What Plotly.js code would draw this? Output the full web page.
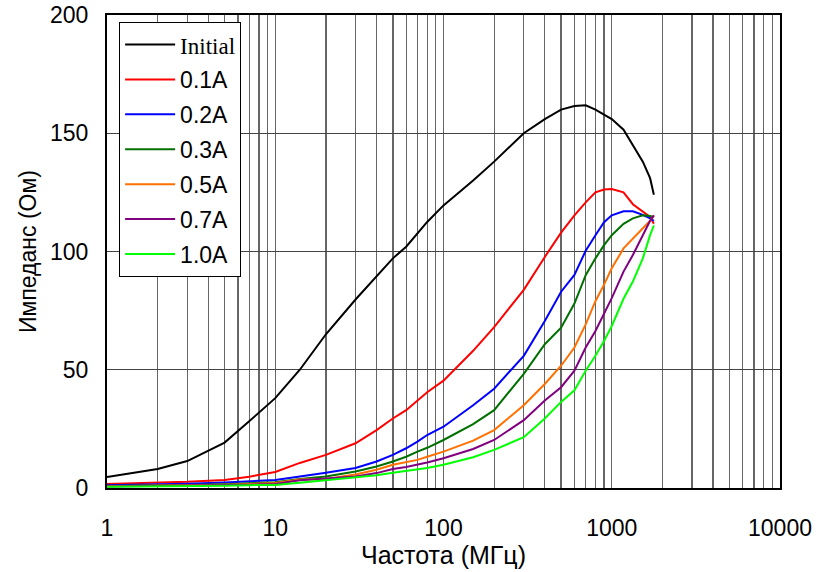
<!DOCTYPE html>
<html>
<head>
<meta charset="utf-8">
<script src="https://cdn.plot.ly/plotly-3.0.1.min.js"></script>
<style>html,body{margin:0;padding:0;background:#fff;}#chart{width:838px;height:572px;}</style>
</head>
<body>
<div id="chart"></div>
<script>
// Frequency (MHz)
const freq = [1,2,3,5,7,10,14,20,30,40,50,60,70,80,100,150,200,300,400,500,600,700,800,900,1000,1175,1335,1530,1690,1780];
// Impedance (Ohm)
const zInitial = [4.6,8,11.4,19.2,28.2,38,50,65,79.7,89.4,97.1,102,107.6,112.5,119.5,130,138,150,156,160,161.5,161.8,160,158,156,151.5,145,138,131,124];
const z01A = [1.7,2.2,2.6,3.4,4.8,6.8,10.6,14,18.9,24.5,29.4,32.9,37,40.5,45.4,58,68,83.8,97.7,108,115.3,120.8,125,126.2,126.4,125,120,117,114.6,111.7];
const z02A = [1.2,1.5,1.8,2.3,2.8,3.4,4.9,6.4,8.5,11.2,14,16.8,19.6,22.4,25.9,35,42,55.9,70.6,83,90.1,100.3,106.9,112.4,115.3,117,117,115.5,114,113];
const z03A = [0.8,1.0,1.3,1.6,1.9,2.4,3.8,4.9,7,9.1,11.2,13.2,15.4,17,20.3,27,32.9,48.3,60.8,67.8,78,90,97.1,102.7,106.9,111.7,114,115.3,115,114.6];
const z05A = [0.7,0.9,1.1,1.4,1.7,2.1,3.6,3.8,5.7,7.7,9.8,10.8,11.9,13.2,15.4,20,24.5,35,44,51.7,59.4,69.2,79,86,92.9,101.3,105.5,109.7,113,115.3];
const z07A = [0.6,0.8,1.0,1.2,1.4,1.7,3.3,4,4.9,6.3,8,8.9,9.8,10.8,12.6,16.5,20.3,28.7,37,42.6,49.6,59.4,66.4,73.4,80.3,91.5,98.5,106.9,113,115.3];
const z10A = [0.5,0.6,0.8,1.0,1.2,1.3,2.2,3.2,4.3,5.4,6.4,7.1,7.7,8.5,9.8,13,16.1,21.5,29.4,36.4,41.3,49.6,55.9,62.2,68.5,80,87.3,97.1,106.9,111];

const seriesNames = ['<span style="font-family:\'Liberation Serif\',\'Times New Roman\',serif">Initial</span>','0.1A','0.2A','0.3A','0.5A','0.7A','1.0A'];
const seriesData = [zInitial, z01A, z02A, z03A, z05A, z07A, z10A];
const seriesColors = ['#000000','#ff0000','#0000ff','#007000','#ff7000','#800080','#00ff00'];

// Log-axis grid positions: 1..9 x each decade; labels only on decades
const decades = [1,10,100,1000,10000];
const gridVals = [];
const gridText = [];
decades.forEach(function(d, i){
  const maxDigit = (i === decades.length - 1) ? 1 : 9;
  for (let k = 1; k <= maxDigit; k++) {
    gridVals.push(d * k);
    gridText.push(k === 1 ? String(d) : '');
  }
});

const traces = seriesData.map(function(z, i){
  return {
    x: freq, y: z, type: 'scatter', mode: 'lines',
    name: seriesNames[i], legendgroup: 'g' + i,
    line: {color: seriesColors[i], width: 2}
  };
});

const fam = 'Arial, "Liberation Sans", sans-serif';
const tickFont = {family: fam, size: 23, color: '#000'};
const legendFont = {family: fam, size: 23, color: '#000'};
const layout = {
  width: 838, height: 572,
  margin: {l: 107, r: 58, t: 15, b: 84},
  paper_bgcolor: '#fff', plot_bgcolor: '#fff',
  font: tickFont,
  showlegend: true,
  legend: {
    x: 0.018, y: 0.985, xanchor: 'left', yanchor: 'top',
    bgcolor: '#fff', bordercolor: '#000', borderwidth: 1,
    font: legendFont, tracegroupgap: 2, itemwidth: 50
  },
  xaxis: {
    type: 'log', range: [0, 4],
    tickmode: 'array', tickvals: gridVals, ticktext: gridText,
    showgrid: true, gridcolor: '#666', gridwidth: 1.3,
    showline: true, linecolor: '#000', linewidth: 2, mirror: true,
    ticks: '', ticklabelstandoff: 18, ticklabeloverflow: 'allow',
    tickfont: tickFont, zeroline: false,
    title: {text: 'Частота (МГц)', font: {family: fam, size: 25, color: '#000'}, standoff: 0}
  },
  yaxis: {
    range: [0, 200], dtick: 50, tick0: 0,
    showgrid: true, gridcolor: '#444', gridwidth: 1.3,
    showline: true, linecolor: '#000', linewidth: 2, mirror: true,
    ticks: '', ticklabelstandoff: 12, ticklabeloverflow: 'allow',
    tickfont: tickFont, zeroline: false,
    title: {text: 'Импеданс (Ом)', font: {family: fam, size: 23, color: '#000'}, standoff: 7}
  }
};

Plotly.newPlot('chart', traces, layout, {displayModeBar: false, staticPlot: true});
</script>
</body>
</html>
